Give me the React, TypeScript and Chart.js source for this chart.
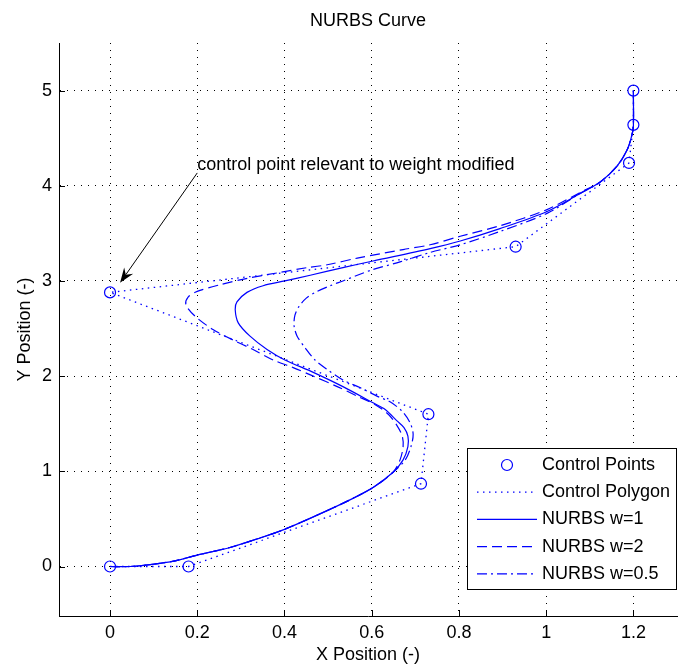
import React, { useEffect, useRef } from "react";
import { Chart, registerables } from "chart.js";

Chart.register(...registerables);

const FONT = '"Liberation Sans", Arial, Helvetica, sans-serif';
const BLUE = "#0000ff";

// ---------- axes ----------
const xTicks = [0, 0.2, 0.4, 0.6, 0.8, 1, 1.2];
const yTicks = [0, 1, 2, 3, 4, 5];
const xRange = [-0.117, 1.3];
const yRange = [-0.52, 5.5];

// ---------- texts ----------
const titleText = "NURBS Curve";
const xTitle = "X Position (-)";
const yTitle = "Y Position (-)";
const seriesLabels = ["Control Points", "Control Polygon", "NURBS w=1", "NURBS w=2", "NURBS w=0.5"];
const annotationText = "control point relevant to weight modified";
const annotationTextAt = [0.2, 4.17];
const arrowFrom = [0.2, 4.135];
const arrowTo = [0.023, 2.98];

// ---------- control points ----------
const cpX = [0, 0.18, 0.713, 0.73, 0, 0.93, 1.19, 1.2, 1.2];
const cpY = [0, 0, 0.87, 1.6, 2.88, 3.36, 4.24, 4.64, 5];

// ---------- NURBS w=1 ----------
const w1X = [0, 0.046, 0.092, 0.149, 0.2, 0.275, 0.344, 0.4, 0.48, 0.55, 0.603, 0.649, 0.672, 0.683, 0.683, 0.674, 0.658, 0.631, 0.603, 0.534, 0.466, 0.401, 0.36, 0.321, 0.294, 0.287, 0.291, 0.314, 0.351, 0.401, 0.459, 0.534, 0.603, 0.734, 0.803, 0.894, 1.002, 1.078, 1.124, 1.163, 1.186, 1.197, 1.2, 1.2];
const w1Y = [0, 0, 0.02, 0.06, 0.12, 0.2, 0.3, 0.39, 0.55, 0.7, 0.83, 0.99, 1.12, 1.26, 1.37, 1.46, 1.53, 1.65, 1.72, 1.89, 2.04, 2.17, 2.28, 2.42, 2.56, 2.7, 2.78, 2.88, 2.95, 3.0, 3.06, 3.14, 3.21, 3.34, 3.42, 3.55, 3.73, 3.92, 4.04, 4.21, 4.38, 4.54, 4.63, 5.0];

// ---------- NURBS w=2 ----------
const w2X = [0, 0.046, 0.092, 0.149, 0.2, 0.275, 0.344, 0.4, 0.48, 0.55, 0.603, 0.649, 0.665, 0.672, 0.67, 0.658, 0.638, 0.608, 0.567, 0.521, 0.466, 0.42, 0.374, 0.328, 0.282, 0.236, 0.195, 0.174, 0.179, 0.2, 0.252, 0.317, 0.39, 0.452, 0.498, 0.567, 0.672, 0.734, 0.803, 0.894, 1.002, 1.078, 1.124, 1.163, 1.186, 1.197, 1.2, 1.2];
const w2Y = [0, 0, 0.02, 0.06, 0.12, 0.2, 0.3, 0.39, 0.55, 0.7, 0.83, 0.99, 1.12, 1.26, 1.37, 1.48, 1.6, 1.7, 1.79, 1.89, 2.0, 2.09, 2.17, 2.28, 2.38, 2.49, 2.63, 2.75, 2.83, 2.89, 2.96, 3.03, 3.09, 3.14, 3.17, 3.24, 3.33, 3.38, 3.47, 3.58, 3.75, 3.93, 4.04, 4.21, 4.38, 4.54, 4.63, 5.0];

// ---------- NURBS w=0.5 ----------
const w05X = [0, 0.046, 0.092, 0.149, 0.2, 0.275, 0.344, 0.4, 0.48, 0.55, 0.603, 0.649, 0.677, 0.69, 0.695, 0.688, 0.67, 0.642, 0.612, 0.573, 0.534, 0.498, 0.47, 0.447, 0.429, 0.422, 0.424, 0.433, 0.45, 0.475, 0.505, 0.534, 0.567, 0.603, 0.665, 0.734, 0.803, 0.894, 1.002, 1.078, 1.124, 1.163, 1.186, 1.197, 1.2, 1.2];
const w05Y = [0, 0, 0.02, 0.06, 0.12, 0.2, 0.3, 0.39, 0.55, 0.7, 0.83, 0.99, 1.12, 1.26, 1.39, 1.51, 1.63, 1.73, 1.79, 1.88, 1.96, 2.07, 2.17, 2.3, 2.42, 2.53, 2.64, 2.73, 2.82, 2.89, 2.95, 3.0, 3.06, 3.12, 3.2, 3.3, 3.38, 3.52, 3.71, 3.92, 4.04, 4.21, 4.38, 4.54, 4.63, 5.0];

const pts = (xs: number[], ys: number[]) => xs.map((x, i) => ({ x, y: ys[i] }));

const overlayPlugin = {
  id: "overlay",
  afterDatasetsDraw(chart: any) {
    const ctx = chart.ctx;
    const ca = chart.chartArea;
    const xs = chart.scales.x;
    const ys = chart.scales.y;
    ctx.save();

    // inner tick marks
    ctx.strokeStyle = "#000";
    ctx.lineWidth = 1;
    ctx.setLineDash([]);
    ctx.beginPath();
    xs.ticks.forEach((t: any) => {
      const px = Math.round(xs.getPixelForValue(t.value)) + 0.5;
      ctx.moveTo(px, ca.bottom);
      ctx.lineTo(px, ca.bottom - 6);
    });
    ys.ticks.forEach((t: any) => {
      const py = Math.round(ys.getPixelForValue(t.value)) + 0.5;
      ctx.moveTo(ca.left, py);
      ctx.lineTo(ca.left + 6, py);
    });
    ctx.stroke();

    // title
    ctx.fillStyle = "#000";
    ctx.font = `18px ${FONT}`;
    ctx.textAlign = "center";
    ctx.textBaseline = "middle";
    ctx.fillText(titleText, (ca.left + ca.right) / 2, 21);

    // annotation text
    ctx.textAlign = "left";
    ctx.textBaseline = "alphabetic";
    ctx.fillText(
      annotationText,
      xs.getPixelForValue(annotationTextAt[0]),
      ys.getPixelForValue(annotationTextAt[1])
    );

    // arrow
    const x1 = xs.getPixelForValue(arrowFrom[0]);
    const y1 = ys.getPixelForValue(arrowFrom[1]);
    const x2 = xs.getPixelForValue(arrowTo[0]);
    const y2 = ys.getPixelForValue(arrowTo[1]);
    const dx = x2 - x1, dy = y2 - y1;
    const len = Math.hypot(dx, dy);
    const ux = dx / len, uy = dy / len;
    const nx = -uy, ny = ux;
    const L = 15, W = 5.5, notch = 10;
    ctx.beginPath();
    ctx.moveTo(x1, y1);
    ctx.lineTo(x2 - ux * notch, y2 - uy * notch);
    ctx.stroke();
    ctx.beginPath();
    ctx.moveTo(x2, y2);
    ctx.lineTo(x2 - ux * L + nx * W, y2 - uy * L + ny * W);
    ctx.lineTo(x2 - ux * notch, y2 - uy * notch);
    ctx.lineTo(x2 - ux * L - nx * W, y2 - uy * L - ny * W);
    ctx.closePath();
    ctx.fill();

    // legend
    const bw = 209, bh = 141;
    const bx = ca.right - 210;
    const by = ca.bottom - 168;
    ctx.fillStyle = "#fff";
    ctx.fillRect(bx, by, bw, bh);
    ctx.strokeStyle = "#000";
    ctx.lineWidth = 1;
    ctx.strokeRect(bx + 0.5, by + 0.5, bw, bh);
    chart.data.datasets.forEach((ds: any, i: number) => {
      const ry = by + 17 + i * 27.2;
      ctx.strokeStyle = ds.borderColor;
      if (ds.showLine === false) {
        ctx.setLineDash([]);
        ctx.lineWidth = 1.2;
        ctx.beginPath();
        ctx.arc(bx + 40, ry, 5.5, 0, Math.PI * 2);
        ctx.stroke();
      } else {
        ctx.setLineDash(ds.borderDash || []);
        ctx.lineWidth = ds.borderWidth;
        ctx.beginPath();
        ctx.moveTo(bx + 10, ry);
        ctx.lineTo(bx + 70, ry);
        ctx.stroke();
      }
      ctx.setLineDash([]);
      ctx.fillStyle = "#000";
      ctx.textAlign = "left";
      ctx.textBaseline = "middle";
      ctx.fillText(ds.label, bx + 75, ry);
    });
    ctx.restore();
  },
};

export default function App() {
  const ref = useRef<HTMLCanvasElement | null>(null);
  useEffect(() => {
    if (!ref.current) return;
    const tickFont = { family: FONT, size: 18 };
    const chart = new Chart(ref.current, {
      type: "scatter",
      data: {
        datasets: [
          {
            label: seriesLabels[0],
            data: pts(cpX, cpY),
            showLine: false,
            pointStyle: "circle",
            pointRadius: 5.5,
            pointHoverRadius: 5.5,
            pointBorderWidth: 1.2,
            pointBorderColor: BLUE,
            pointBackgroundColor: "rgba(0,0,0,0)",
            borderColor: BLUE,
            backgroundColor: "rgba(0,0,0,0)",
          },
          {
            label: seriesLabels[1],
            data: pts(cpX, cpY),
            showLine: true,
            pointRadius: 0,
            borderColor: BLUE,
            borderWidth: 1.3,
            borderDash: [1.5, 4.5],
            tension: 0,
          },
          {
            label: seriesLabels[2],
            data: pts(w1X, w1Y),
            showLine: true,
            pointRadius: 0,
            borderColor: BLUE,
            borderWidth: 1.2,
            tension: 0.3,
          },
          {
            label: seriesLabels[3],
            data: pts(w2X, w2Y),
            showLine: true,
            pointRadius: 0,
            borderColor: BLUE,
            borderWidth: 1.2,
            borderDash: [10, 5],
            tension: 0.3,
          },
          {
            label: seriesLabels[4],
            data: pts(w05X, w05Y),
            showLine: true,
            pointRadius: 0,
            borderColor: BLUE,
            borderWidth: 1.2,
            borderDash: [10, 4, 2, 4],
            tension: 0.3,
          },
        ],
      },
      options: {
        animation: false,
        responsive: false,
        devicePixelRatio: 1,
        events: [],
        layout: { autoPadding: false, padding: { top: 43, right: 1, left: 0, bottom: 0 } },
        plugins: {
          legend: { display: false },
          title: { display: false },
          tooltip: { enabled: false },
        },
        scales: {
          x: {
            type: "linear",
            min: xRange[0],
            max: xRange[1],
            afterBuildTicks: (s: any) => {
              s.ticks = xTicks.map((v) => ({ value: v }));
            },
            afterFit: (s: any) => {
              s.height = 50;
              s.paddingLeft = 0;
              s.paddingRight = 0;
            },
            grid: { color: "#000", lineWidth: 1, drawTicks: false },
            border: { display: true, color: "#000", width: 1, dash: [1, 6] },
            ticks: {
              color: "#000",
              font: tickFont,
              padding: 6,
              maxRotation: 0,
              autoSkip: false,
              callback: (v: any) => String(v),
            },
            title: {
              display: true,
              text: xTitle,
              color: "#000",
              font: tickFont,
              padding: { top: 0, bottom: 0 },
            },
          },
          y: {
            type: "linear",
            min: yRange[0],
            max: yRange[1],
            afterBuildTicks: (s: any) => {
              s.ticks = yTicks.map((v) => ({ value: v }));
            },
            afterFit: (s: any) => {
              s.width = 59;
              s.paddingTop = 0;
              s.paddingBottom = 0;
            },
            grid: { color: "#000", lineWidth: 1, drawTicks: false },
            border: { display: true, color: "#000", width: 1, dash: [1, 6] },
            ticks: {
              color: "#000",
              font: tickFont,
              padding: 7,
              autoSkip: false,
              callback: (v: any) => String(v),
            },
            title: {
              display: true,
              text: yTitle,
              color: "#000",
              font: tickFont,
              padding: { top: 14, bottom: 0 },
            },
          },
        },
      },
      plugins: [overlayPlugin],
    } as any);
    return () => chart.destroy();
  }, []);

  return (
    <div style={{ position: "absolute", left: 0, top: 0, width: 678, height: 666, background: "#fff" }}>
      <canvas ref={ref} width={678} height={666} style={{ width: 678, height: 666, display: "block" }} />
    </div>
  );
}
